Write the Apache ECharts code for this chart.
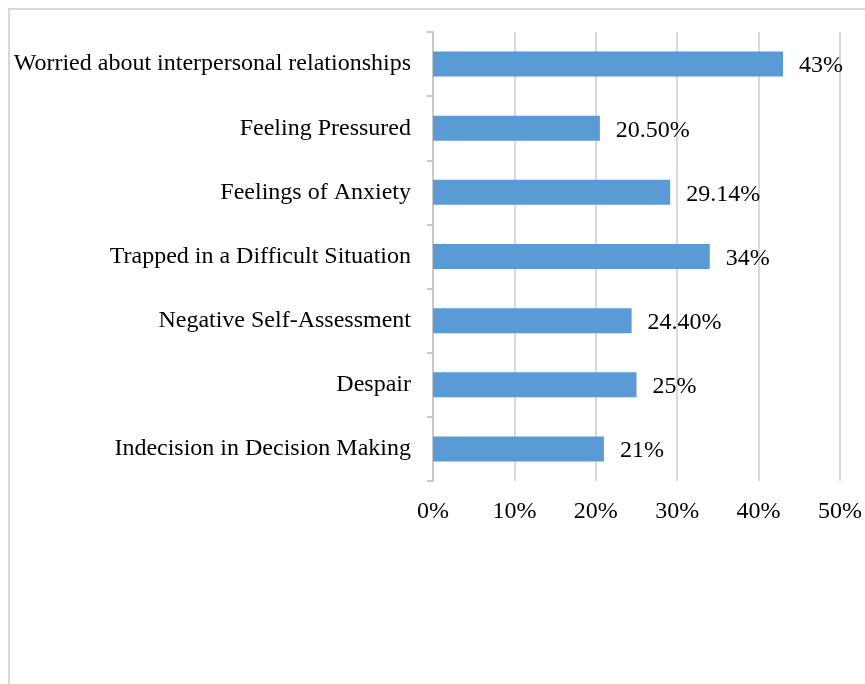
<!DOCTYPE html>
<html>
<head>
<meta charset="utf-8">
<script src="https://cdn.jsdelivr.net/npm/echarts@6/dist/echarts.min.js"></script>
<style>html,body{margin:0;padding:0;background:#fff;}#c{width:865px;height:684px;}</style>
</head>
<body>
<div id="c"></div>
<script>
const categories = ["Worried about interpersonal relationships","Feeling Pressured","Feelings of Anxiety","Trapped in a Difficult Situation","Negative Self-Assessment","Despair","Indecision in Decision Making"];
const values = [43, 20.5, 29.14, 34, 24.4, 25, 21];
const valueLabels = ["43%","20.50%","29.14%","34%","24.40%","25%","21%"];
const xTicks = [0, 10, 20, 30, 40, 50];

const font = '"Liberation Serif","Times New Roman",serif';
const chart = echarts.init(document.getElementById('c'), null, {renderer:'canvas'});
chart.setOption({
  animation:false,
  backgroundColor:'#fff',
  graphic:[{type:'rect', shape:{x:9, y:9, width:900, height:720}, style:{fill:'none', stroke:'#d9d9d9', lineWidth:2}, z:-1}],
  grid:{left:433, right:25, top:32, bottom:203, containLabel:false},
  xAxis:{type:'value', min:xTicks[0], max:xTicks[xTicks.length-1], interval:10,
    axisLine:{show:false}, axisTick:{show:false},
    splitLine:{show:true, lineStyle:{color:'#d9d9d9', width:2}},
    axisLabel:{formatter:v=>v+'%', color:'#000', fontFamily:font, fontSize:24, margin:19}},
  yAxis:{type:'category', data:categories, inverse:true,
    axisLine:{show:true, lineStyle:{color:'#c8c8c8', width:2}},
    axisTick:{show:true, length:6, lineStyle:{color:'#c8c8c8', width:2}},
    axisLabel:{color:'#000', fontFamily:font, fontSize:24, margin:22, padding:[4,0,0,0]}},
  series:[{type:'bar', data:values, barWidth:25, itemStyle:{color:'#5b9bd5'},
    label:{show:true, position:'right', distance:16, offset:[0,2], color:'#000', fontFamily:font, fontSize:24,
      formatter:p=>valueLabels[p.dataIndex]}}]
});
</script>
</body>
</html>
